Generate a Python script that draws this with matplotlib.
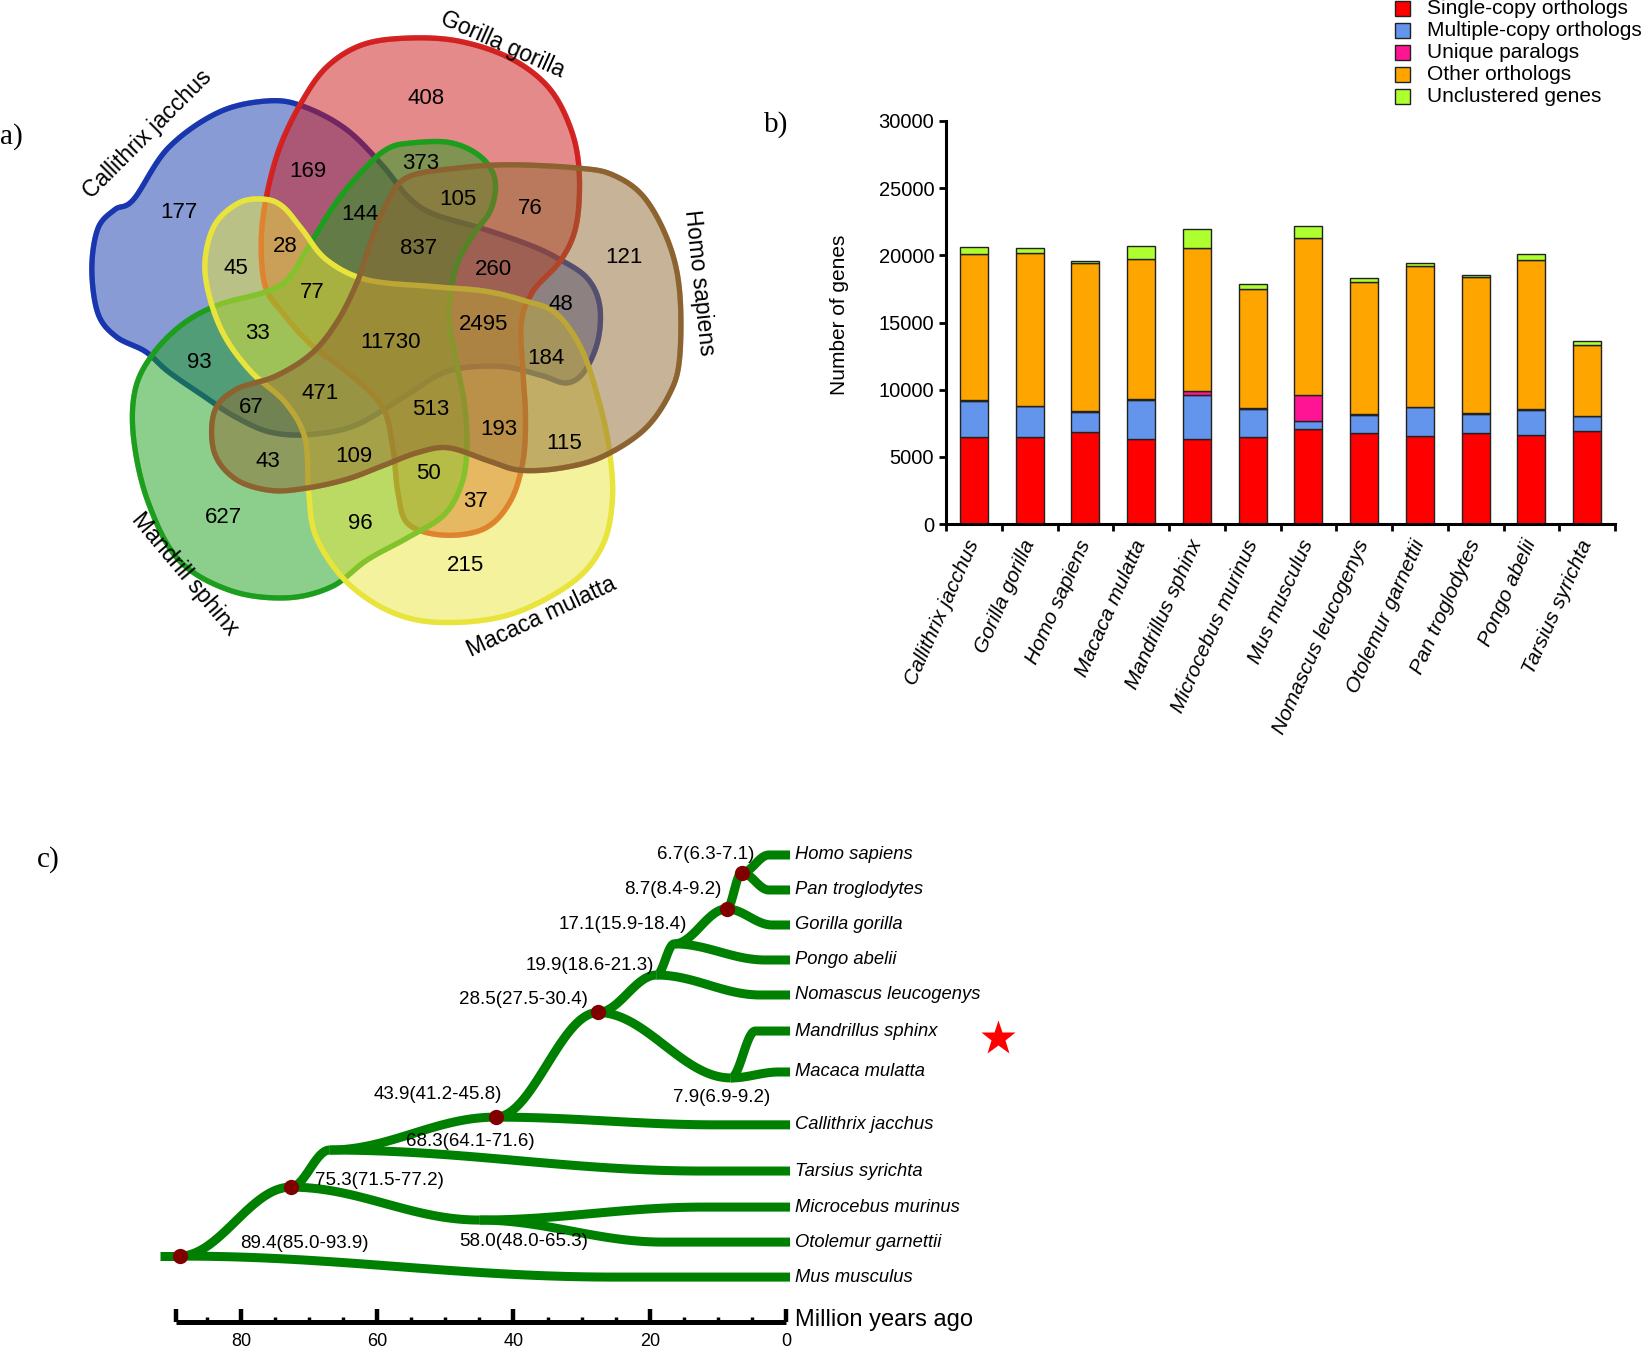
import numpy as np
import matplotlib
matplotlib.use("Agg")
import matplotlib.pyplot as plt
from matplotlib.patches import Polygon, Rectangle

plt.rcParams['font.family'] = ['Liberation Sans', 'DejaVu Sans']

# ---------------- data ----------------
# b) gene family composition
species = ['Callithrix jacchus', 'Gorilla gorilla', 'Homo sapiens', 'Macaca mulatta',
           'Mandrillus sphinx', 'Microcebus murinus', 'Mus musculus', 'Nomascus leucogenys',
           'Otolemur garnettii', 'Pan troglodytes', 'Pongo abelii', 'Tarsius syrichta']
single_copy = [6480, 6500, 6850, 6350, 6330, 6450, 7090, 6800, 6550, 6800, 6650, 6920]
multi_copy = [2665, 2250, 1480, 2845, 3285, 2125, 570, 1330, 2150, 1405, 1850, 1090]
unique_para = [50, 40, 50, 80, 250, 40, 1980, 30, 40, 30, 50, 40]
other_orth = [10925, 11355, 11050, 10425, 10650, 8910, 11665, 9835, 10465, 10155, 11075, 5250]
unclustered = [495, 370, 120, 965, 1455, 345, 890, 345, 225, 170, 445, 295]
series_names = ['Single-copy orthologs', 'Multiple-copy orthologs', 'Unique paralogs',
                'Other orthologs', 'Unclustered genes']
series_colors = ['#ff0000', '#6495ed', '#ff1493', '#ffa500', '#adff2f']

# a) venn counts
venn_sets = ['Callithrix jacchus', 'Gorilla gorilla', 'Homo sapiens', 'Macaca mulatta', 'Mandrill sphinx']
venn_counts = [408, 169, 373, 105, 76, 177, 144, 28, 837, 121, 45, 260, 77, 48, 2495, 33,
               11730, 184, 93, 471, 67, 513, 193, 115, 43, 109, 50, 37, 627, 96, 215]

# c) tree
tips = ['Homo sapiens', 'Pan troglodytes', 'Gorilla gorilla', 'Pongo abelii',
        'Nomascus leucogenys', 'Mandrillus sphinx', 'Macaca mulatta', 'Callithrix jacchus',
        'Tarsius syrichta', 'Microcebus murinus', 'Otolemur garnettii', 'Mus musculus']
tip_rows = [0, 1, 2, 3, 4, 5.03, 6.2, 7.71, 9.03, 10.06, 11.06, 12.06]
tip_settle = [2.5, 2.5, 2, 3, 3.7, 4.5, 1, 10, 12, 12, 18, 25]
node_names = ['HP', 'HPG', 'GA', 'HOM', 'CAT', 'CER', 'ANT', 'HAP', 'STR', 'PRI', 'ROOT']
node_time = [6.5, 8.7, 16.4, 19.0, 27.6, 8.1, 42.6, 67.0, 45.0, 72.7, 89.0]
node_rows = [0.51, 1.54, 2.54, 3.43, 4.5, 6.37, 7.49, 8.43, 10.43, 9.49, 11.46]
calibrated = ['HP', 'HPG', 'CAT', 'ANT', 'PRI', 'ROOT']
edges = [('ROOT', 'PRI'), ('ROOT', 'Mus musculus'), ('PRI', 'HAP'), ('PRI', 'STR'),
         ('STR', 'Microcebus murinus'), ('STR', 'Otolemur garnettii'), ('HAP', 'ANT'),
         ('HAP', 'Tarsius syrichta'), ('ANT', 'CAT'), ('ANT', 'Callithrix jacchus'),
         ('CAT', 'HOM'), ('CAT', 'CER'), ('CER', 'Mandrillus sphinx'), ('CER', 'Macaca mulatta'),
         ('HOM', 'GA'), ('HOM', 'Nomascus leucogenys'), ('GA', 'HPG'), ('GA', 'Pongo abelii'),
         ('HPG', 'HP'), ('HPG', 'Gorilla gorilla'), ('HP', 'Homo sapiens'), ('HP', 'Pan troglodytes')]
div_age = [6.7, 8.7, 17.1, 19.9, 28.5, 7.9, 43.9, 68.3, 75.3, 89.4, 58.0]
div_lo = [6.3, 8.4, 15.9, 18.6, 27.5, 6.9, 41.2, 64.1, 71.5, 85.0, 48.0]
div_hi = [7.1, 9.2, 18.4, 21.3, 30.4, 9.2, 45.8, 71.6, 77.2, 93.9, 65.3]

# ---------------- layout ----------------
fig = plt.figure(figsize=(16.48, 13.48), dpi=100)
W, H = 1648.0, 1348.0

# --- a) venn
ax_v = fig.add_axes([0, 1 - 700 / H, 800 / W, 700 / H])
ax_v.set_xlim(0, 1568)
ax_v.set_ylim(1563, 0)
ax_v.axis('off')

shapes = {
    'blue': [(530, 225), (430, 250), (330, 330), (262, 445), (225, 468), (192, 510), (180, 600),
             (192, 700), (228, 752), (285, 785), (330, 830), (400, 885), (460, 930), (530, 965),
             (610, 970), (700, 948), (800, 880), (880, 828), (980, 818), (1060, 838), (1110, 855),
             (1145, 830), (1172, 760), (1175, 680), (1150, 620), (1095, 578), (1040, 548),
             (950, 512), (850, 478), (800, 440), (750, 370), (680, 290), (600, 240)],
    'red': [(590, 230), (640, 150), (710, 100), (800, 85), (900, 92), (1000, 130), (1075, 195),
            (1118, 285), (1135, 380), (1130, 500), (1100, 580), (1045, 650), (1022, 720),
            (1025, 830), (1030, 930), (1025, 1030), (1000, 1120), (950, 1180), (870, 1195),
            (800, 1170), (780, 1100), (770, 1000), (750, 910), (690, 840), (610, 770),
            (555, 700), (520, 640), (512, 540), (522, 440), (548, 330)],
    'green': [(800, 320), (880, 318), (940, 348), (970, 400), (962, 468), (925, 528), (893, 600),
              (880, 700), (893, 800), (910, 900), (915, 1000), (905, 1080), (870, 1150),
              (800, 1200), (720, 1250), (650, 1310), (560, 1335), (450, 1318), (350, 1250),
              (290, 1120), (262, 980), (265, 870), (300, 790), (360, 722), (430, 680),
              (520, 652), (565, 622), (605, 550), (660, 450), (720, 370), (760, 332)],
    'yellow': [(520, 445), (470, 452), (422, 500), (402, 580), (410, 660), (440, 750), (492, 830),
               (560, 900), (598, 980), (605, 1100), (620, 1200), (680, 1300), (770, 1368),
               (870, 1390), (1000, 1372), (1120, 1302), (1180, 1220), (1200, 1120), (1195, 1010),
               (1175, 900), (1140, 780), (1090, 700), (1030, 672), (950, 650), (850, 640),
               (720, 625), (640, 580), (592, 512), (555, 462)],
    'brown': [(800, 395), (900, 375), (1000, 368), (1130, 375), (1200, 390), (1262, 440),
              (1310, 540), (1332, 650), (1332, 800), (1312, 880), (1262, 960), (1180, 1020),
              (1100, 1045), (1020, 1050), (960, 1030), (880, 1000), (820, 1010), (750, 1040),
              (680, 1070), (600, 1090), (530, 1095), (462, 1070), (420, 1010), (420, 920),
              (462, 870), (540, 840), (610, 790), (660, 720), (700, 630), (730, 530), (760, 450)],
}
fills = {'blue': '#1539ad', 'red': '#cb1717', 'green': '#1b9f1b', 'yellow': '#ebe73b', 'brown': '#916931'}
lines = {'blue': '#1a36b0', 'red': '#d42424', 'green': '#1e9e1e', 'yellow': '#e8e43c', 'brown': '#8c6330'}


def closed_spline(pts, n=20):
    P = np.array(pts, float)
    out = []
    m = len(P)
    for i in range(m):
        p0, p1, p2, p3 = P[i - 1], P[i], P[(i + 1) % m], P[(i + 2) % m]
        t = np.linspace(0, 1, n, endpoint=False)[:, None]
        out.append(0.5 * (2 * p1 + (-p0 + p2) * t + (2 * p0 - 5 * p1 + 4 * p2 - p3) * t ** 2
                          + (-p0 + 3 * p1 - 3 * p2 + p3) * t ** 3))
    return np.vstack(out)


# each set: edge first, then its own translucent fill, so later sets tint earlier outlines
for k in ['blue', 'red', 'green', 'yellow', 'brown']:
    curve = closed_spline(shapes[k])
    ax_v.add_patch(Polygon(curve, closed=True, facecolor='none', edgecolor=lines[k], lw=3.8))
    ax_v.add_patch(Polygon(curve, closed=True, facecolor=fills[k], alpha=0.5, edgecolor='none'))
    ax_v.add_patch(Polygon(curve, closed=True, facecolor='none', edgecolor=lines[k], lw=3.8,
                           alpha=0.45))

count_pos = [(835, 220), (603, 383), (825, 365), (898, 445), (1040, 465), (350, 475), (705, 478),
             (560, 550), (820, 555), (1222, 575), (462, 600), (968, 602), (612, 652), (1100, 680),
             (948, 725), (505, 745), (765, 765), (1070, 800), (390, 810), (628, 878), (493, 910),
             (845, 915), (977, 960), (1105, 990), (525, 1030), (693, 1020), (840, 1058),
             (932, 1120), (438, 1155), (707, 1168), (912, 1262)]
for c, (px, py) in zip(venn_counts, count_pos):
    ax_v.text(px, py, str(c), ha='center', va='center', fontsize=16)

label_pos = [(290, 300, 45), (985, 100, -24), (1370, 632, -84), (1062, 1378, 25), (362, 1282, -50)]
for name, (px, py, rot) in zip(venn_sets, label_pos):
    ax_v.text(px, py, name, ha='center', va='center', fontsize=16.5, rotation=rot,
              rotation_mode='anchor')

# --- b) stacked bars
ax_b = fig.add_axes([946 / W, 1 - 524 / H, 669 / W, 403 / H])
x = np.arange(len(species))
bottom = np.zeros(len(species))
for vals, col in zip([single_copy, multi_copy, unique_para, other_orth, unclustered], series_colors):
    ax_b.bar(x, vals, 0.5, bottom=bottom, color=col, edgecolor='#222222', linewidth=1)
    bottom += np.array(vals)
ax_b.set_xlim(-0.5, len(species) - 0.5)
ax_b.set_ylim(0, 30000)
ax_b.set_yticks(np.arange(0, 30001, 5000))
ax_b.tick_params(axis='y', labelsize=14.5, width=2, length=5, direction='out')
ax_b.set_xticks(np.arange(-0.5, len(species), 1.0))
ax_b.set_xticklabels([])
ax_b.tick_params(axis='x', which='major', width=2, length=5, direction='out')
ax_b.set_xticks(x, minor=True)
ax_b.set_xticklabels(species, minor=True, rotation=66, rotation_mode='anchor', ha='right',
                     va='center', fontsize=15, style='italic')
ax_b.tick_params(axis='x', which='minor', length=0, pad=12)
for s in ['top', 'right']:
    ax_b.spines[s].set_visible(False)
for s in ['left', 'bottom']:
    ax_b.spines[s].set_linewidth(2.2)
ax_b.set_ylabel('Number of genes', fontsize=15)
ax_b.yaxis.set_label_coords(-0.145, 0.52)

# --- c) tree
ax_t = fig.add_axes([100 / W, 0, 1000 / W, 518 / H])
ax_t.set_xlim(100.7, -46.1)
ax_t.set_ylim(14.086, -0.714)
ax_t.axis('off')

pos = {n: (t, r) for n, t, r in zip(node_names, node_time, node_rows)}
for n, r, s in zip(tips, tip_rows, tip_settle):
    pos[n] = (s, r)
tip_set = set(tips)
tree_green = '#008000'


def connector(a, b, n=80):
    u = np.linspace(0, 1, n)
    t = a[0] + (b[0] - a[0]) * u
    r = a[1] + (b[1] - a[1]) * (0.5 - 0.5 * np.cos(np.pi * u))
    return t, r


for p, c in edges:
    t, r = connector(pos[p], pos[c])
    if c in tip_set:
        t = np.append(t, -0.6)
        r = np.append(r, r[-1])
    ax_t.plot(t, r, color=tree_green, lw=6.5, solid_capstyle='butt', solid_joinstyle='round')
for n, r in zip(tips, tip_rows):
    ax_t.text(-1.3, r, n, ha='left', va='center', fontsize=13.2, style='italic')
root = pos['ROOT']
ax_t.plot([91.9, root[0]], [root[1], root[1]], color=tree_green, lw=6.5, solid_capstyle='butt')
for n in calibrated:
    ax_t.plot(*pos[n], 'o', color='#800000', ms=11, mec='none', zorder=5)

# divergence-time labels (right edge position, row)
div_label_pos = [(4.7, 0.0), (9.5, 1.0), (14.5, 2.0), (19.4, 3.17), (29.1, 4.14), (2.35, 6.94),
                 (41.7, 6.83), (36.9, 8.2), (50.2, 9.31), (61.2, 11.09), (29.1, 11.03)]
for a, lo, hi, (lt, lr) in zip(div_age, div_lo, div_hi, div_label_pos):
    ax_t.text(lt, lr, f'{a:.1f}({lo:.1f}-{hi:.1f})', ha='right', va='center', fontsize=13.5)

ax_t.plot(-31.1, 5.23, '*', color='#ff0000', ms=26, mec='none')

# time scale bar
bar_row = 13.34
ax_t.plot([89.6, 0], [bar_row, bar_row], color='black', lw=3.6, solid_capstyle='butt')
for t in [89.6, 80, 60, 40, 20, 0]:
    ax_t.plot([t, t], [bar_row, bar_row - 0.36], color='black', lw=3.2, solid_capstyle='butt')
for t in np.arange(5, 90, 5):
    if t % 20:
        ax_t.plot([t, t], [bar_row, bar_row - 0.14], color='black', lw=2.5, solid_capstyle='butt')
for t in [80, 60, 40, 20, 0]:
    ax_t.text(t, 13.9, str(t), ha='center', va='center', fontsize=13)
ax_t.text(-1.3, bar_row - 0.05, 'Million years ago', ha='left', va='center', fontsize=17)

# --- overlay: panel letters and legend
ov = fig.add_axes([0, 0, 1, 1], zorder=10)
ov.set_xlim(0, W)
ov.set_ylim(H, 0)
ov.axis('off')
ov.patch.set_alpha(0)
serif = ['Liberation Serif', 'DejaVu Serif']
ov.text(0, 137, 'a)', fontsize=21, family=serif, ha='left', va='center')
ov.text(764, 125, 'b)', fontsize=21, family=serif, ha='left', va='center')
ov.text(37, 860, 'c)', fontsize=21, family=serif, ha='left', va='center')
for i, (nm, col) in enumerate(zip(series_names, series_colors)):
    yc = 8 + 22.2 * i
    ov.add_patch(Rectangle((1395, yc - 7.5), 15, 15, facecolor=col, edgecolor='#222222', lw=1))
    ov.text(1427, yc, nm, ha='left', va='center', fontsize=15)

fig.savefig('out.png', dpi=100)
